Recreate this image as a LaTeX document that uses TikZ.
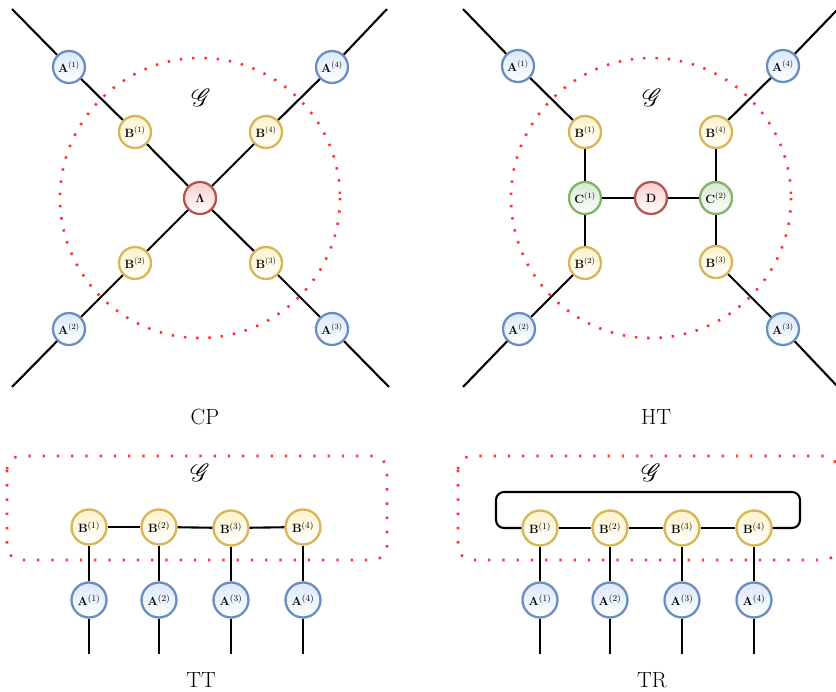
\documentclass[tikz,border=0pt]{standalone}
\usepackage{amsmath}
\usepackage{mathrsfs}
\definecolor{ab}{HTML}{6C8EBF}\definecolor{af}{HTML}{DAE8FC}
\definecolor{bb}{HTML}{D6B656}\definecolor{bf}{HTML}{FFF2CC}
\definecolor{cb}{HTML}{82B366}\definecolor{cf}{HTML}{D5E8D4}
\definecolor{db}{HTML}{B85450}\definecolor{df}{HTML}{F8CECC}
\definecolor{dotred}{HTML}{FF3333}
\tikzset{
  tn/.style={circle,inner sep=0pt,line width=2.3pt,minimum size=32pt,bottom color=white,font=\fontsize{11.5}{14}\selectfont},
  na/.style={tn,draw=ab,top color=af},
  nb/.style={tn,draw=bb,top color=bf},
  nc/.style={tn,draw=cb,top color=cf},
  nd/.style={tn,draw=db,top color=df},
  nal/.style={na,minimum size=35pt,font=\fontsize{12.5}{15}\selectfont},
  nbl/.style={nb,minimum size=35pt,font=\fontsize{12.5}{15}\selectfont},
  wire/.style={line width=2.1pt,black},
  dotcirc/.style={dotred,line width=2.6pt,dash pattern=on 2.4pt off 9.9pt},
  dotbox/.style={dotred,line width=2.6pt,dash pattern=on 2.4pt off 11.85pt,rounded corners=14pt},
  captext/.style={font=\fontsize{22}{26}\selectfont,inner sep=0pt},
  gl/.style={font=\fontsize{23}{27}\selectfont,inner sep=0pt}
}
\begin{document}
\begin{tikzpicture}[x=1pt,y=-1pt]
\useasboundingbox (0,0) rectangle (836,692);
% dotted regions
\draw[dotcirc] (200,198) circle[radius=140];
\draw[dotcirc] (651,198) circle[radius=140];
\draw[dotbox] (7,456) rectangle (387,560);
\draw[dotbox] (458,456) rectangle (838,560);
% CP
\node[na] (a1) at (69,67) {$\mathbf{A}^{(1)}$};
\node[na] (a4) at (332,67) {$\mathbf{A}^{(4)}$};
\node[na] (a2) at (69,329) {$\mathbf{A}^{(2)}$};
\node[na] (a3) at (332,329) {$\mathbf{A}^{(3)}$};
\node[nb] (b1) at (135,132) {$\mathbf{B}^{(1)}$};
\node[nb] (b4) at (266,132) {$\mathbf{B}^{(4)}$};
\node[nb] (b2) at (135,263) {$\mathbf{B}^{(2)}$};
\node[nb] (b3) at (266,263) {$\mathbf{B}^{(3)}$};
\node[nd] (l) at (200,198) {$\boldsymbol{\Lambda}$};
\coordinate (e1) at (12,9); \coordinate (e4) at (387,9);
\coordinate (e2) at (12,387); \coordinate (e3) at (389,387);
\draw[wire] (e1)--(a1); \draw[wire] (a1)--(b1); \draw[wire] (b1)--(l);
\draw[wire] (e4)--(a4); \draw[wire] (a4)--(b4); \draw[wire] (b4)--(l);
\draw[wire] (e2)--(a2); \draw[wire] (a2)--(b2); \draw[wire] (b2)--(l);
\draw[wire] (e3)--(a3); \draw[wire] (a3)--(b3); \draw[wire] (b3)--(l);
\node[gl] (g1) at (201,98) {$\mathscr{G}$};
\node[captext] (c1) at (205,417) {CP};
% HT
\node[na] (ha1) at (518,66) {$\mathbf{A}^{(1)}$};
\node[na] (ha4) at (783,66) {$\mathbf{A}^{(4)}$};
\node[na] (ha2) at (519,329) {$\mathbf{A}^{(2)}$};
\node[na] (ha3) at (783,329) {$\mathbf{A}^{(3)}$};
\node[nb] (hb1) at (585,132) {$\mathbf{B}^{(1)}$};
\node[nb] (hb4) at (716,132) {$\mathbf{B}^{(4)}$};
\node[nb] (hb2) at (585,263) {$\mathbf{B}^{(2)}$};
\node[nb] (hb3) at (716,262) {$\mathbf{B}^{(3)}$};
\node[nc] (hc1) at (585,198) {$\mathbf{C}^{(1)}$};
\node[nc] (hc2) at (716,198) {$\mathbf{C}^{(2)}$};
\node[nd] (hd) at (651,198) {$\mathbf{D}$};
\coordinate (he1) at (463,9); \coordinate (he4) at (838,9);
\coordinate (he2) at (463,387); \coordinate (he3) at (838,387);
\draw[wire] (he1)--(ha1); \draw[wire] (ha1)--(hb1); \draw[wire] (hb1)--(hc1);
\draw[wire] (he4)--(ha4); \draw[wire] (ha4)--(hb4); \draw[wire] (hb4)--(hc2);
\draw[wire] (he2)--(ha2); \draw[wire] (ha2)--(hb2); \draw[wire] (hb2)--(hc1);
\draw[wire] (he3)--(ha3); \draw[wire] (ha3)--(hb3); \draw[wire] (hb3)--(hc2);
\draw[wire] (hc1)--(hd); \draw[wire] (hd)--(hc2);
\node[gl] (g2) at (652,98) {$\mathscr{G}$};
\node[captext] (c2) at (656,417) {HT};
% TT
\node[nbl] (tb1) at (89,527) {$\mathbf{B}^{(1)}$};
\node[nbl] (tb2) at (159,527) {$\mathbf{B}^{(2)}$};
\node[nbl] (tb3) at (231,528) {$\mathbf{B}^{(3)}$};
\node[nbl] (tb4) at (303,527) {$\mathbf{B}^{(4)}$};
\node[nal] (ta1) at (89,600) {$\mathbf{A}^{(1)}$};
\node[nal] (ta2) at (159,600) {$\mathbf{A}^{(2)}$};
\node[nal] (ta3) at (231,600) {$\mathbf{A}^{(3)}$};
\node[nal] (ta4) at (303,600) {$\mathbf{A}^{(4)}$};
\coordinate (te1) at (89,654); \coordinate (te2) at (159,654);
\coordinate (te3) at (231,654); \coordinate (te4) at (303,654);
\draw[wire] (tb1)--(tb2); \draw[wire] (tb2)--(tb3); \draw[wire] (tb3)--(tb4);
\draw[wire] (tb1)--(ta1); \draw[wire] (ta1)--(te1);
\draw[wire] (tb2)--(ta2); \draw[wire] (ta2)--(te2);
\draw[wire] (tb3)--(ta3); \draw[wire] (ta3)--(te3);
\draw[wire] (tb4)--(ta4); \draw[wire] (ta4)--(te4);
\node[gl] (g3) at (200,473) {$\mathscr{G}$};
\node[captext] (c3) at (201,680) {TT};
% TR
\node[nbl] (rb1) at (540,528) {$\mathbf{B}^{(1)}$};
\node[nbl] (rb2) at (610,528) {$\mathbf{B}^{(2)}$};
\node[nbl] (rb3) at (682,528) {$\mathbf{B}^{(3)}$};
\node[nbl] (rb4) at (754,528) {$\mathbf{B}^{(4)}$};
\node[nal] (ra1) at (540,600) {$\mathbf{A}^{(1)}$};
\node[nal] (ra2) at (610,600) {$\mathbf{A}^{(2)}$};
\node[nal] (ra3) at (682,600) {$\mathbf{A}^{(3)}$};
\node[nal] (ra4) at (754,600) {$\mathbf{A}^{(4)}$};
\coordinate (re1) at (540,654); \coordinate (re2) at (610,654);
\coordinate (re3) at (682,654); \coordinate (re4) at (754,654);
\coordinate (l1) at (496,528); \coordinate (l2) at (496,492);
\coordinate (l3) at (800,492); \coordinate (l4) at (800,528);
\draw[wire] (rb1)--(rb2); \draw[wire] (rb2)--(rb3); \draw[wire] (rb3)--(rb4);
\draw[wire,rounded corners=8pt] (rb1.west)--(l1)--(l2)--(l3)--(l4)--(rb4.east);
\draw[wire] (rb1)--(ra1); \draw[wire] (ra1)--(re1);
\draw[wire] (rb2)--(ra2); \draw[wire] (ra2)--(re2);
\draw[wire] (rb3)--(ra3); \draw[wire] (ra3)--(re3);
\draw[wire] (rb4)--(ra4); \draw[wire] (ra4)--(re4);
\node[gl] (g4) at (651,473) {$\mathscr{G}$};
\node[captext] (c4) at (652,680) {TR};
\end{tikzpicture}
\end{document}
